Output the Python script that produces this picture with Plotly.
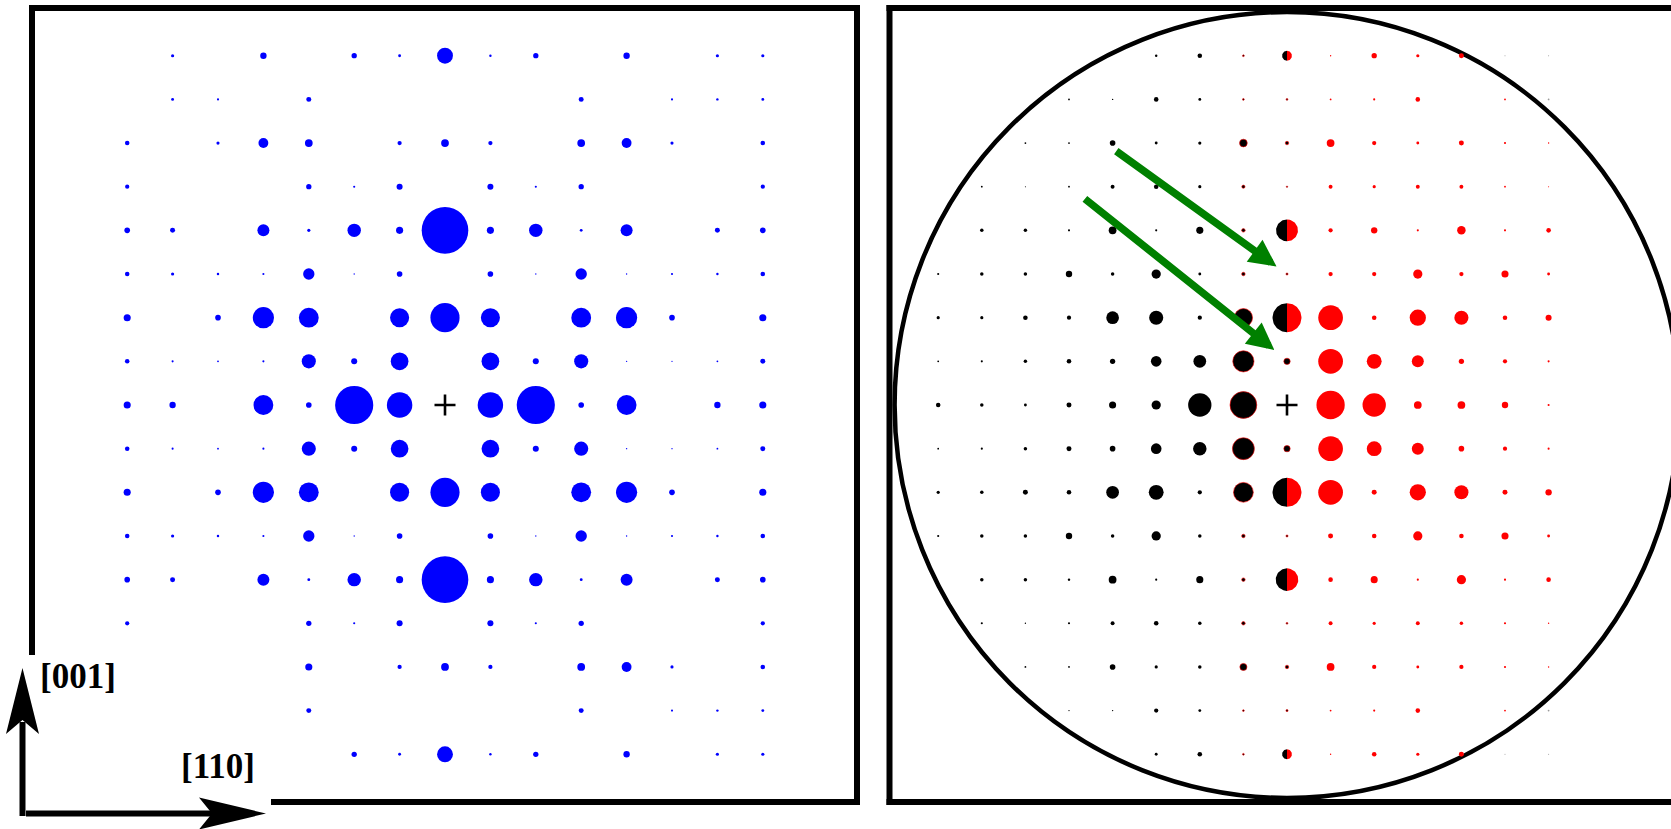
import numpy as np
import plotly.graph_objects as go

W, H = 1671, 829

# Reciprocal-lattice indices of the spots
ROWS = list(range(8, -9, -1))       # [001] index, top row first
COLS_LEFT = list(range(-7, 8))      # [110] index, left pattern
COLS_RIGHT = list(range(-8, 7))     # [110] index, right pattern

# Left pattern: spot intensity (drawn as spot diameter), columns -7 .. 7
left_p8 = [0, 3, 0, 6, 0, 5, 2.7, 15, 2.3, 5, 0, 6, 0, 3, 3]
left_p7 = [0, 2.7, 2, 0, 4.7, 0, 0, 0, 0, 0, 4.7, 0, 2, 2.3, 2.7]
left_p6 = [4.3, 0, 3, 9.3, 7.3, 0, 4, 7.3, 4, 0, 7.3, 9.3, 3, 0, 4.3]
left_p5 = [4, 0, 0, 0, 5, 2, 5.7, 0, 5.7, 2, 5, 0, 0, 0, 4]
left_p4 = [5.3, 4.7, 0, 11.3, 3, 12.7, 6.7, 44, 6.7, 12.7, 2.7, 11.3, 0, 4.7, 5.3]
left_p3 = [4.3, 3, 2.3, 2, 10.7, 1.3, 5.3, 0, 5.3, 1.3, 10.7, 1.3, 2, 2.3, 4.3]
left_p2 = [6.7, 0, 5.3, 20, 18.7, 0, 18, 27.5, 18, 0, 18.7, 20, 5.3, 0, 6.7]
left_p1 = [4.3, 2, 1.7, 2, 13.3, 5.7, 16.7, 0, 16.7, 5.7, 13.3, 1.3, 1.3, 1.7, 4.7]
left_z0 = [6.7, 6, 0, 18.7, 5.3, 36, 24, 0, 24, 36, 5.3, 18.7, 0, 6, 6.7]
left_m1 = [4.3, 2, 1.7, 2, 13.3, 5.7, 16.7, 0, 16.7, 5.7, 13.3, 1.3, 1.3, 1.7, 4.7]
left_m2 = [6.7, 0, 5.3, 20, 18.7, 0, 18, 27.5, 18, 0, 18.7, 20, 5.3, 0, 6.7]
left_m3 = [4.3, 3, 2.3, 2, 10.7, 1.3, 5.3, 0, 5.3, 1.3, 10.7, 1.3, 2, 2.3, 4.3]
left_m4 = [5.3, 4.7, 0, 11.3, 2.7, 12.7, 6.7, 44, 6.7, 12.7, 2.7, 11.3, 0, 4.7, 5.3]
left_m5 = [4, 0, 0, 0, 5, 2, 5.7, 0, 5.7, 2, 5, 0, 0, 0, 4]
left_m6 = [0, 0, 0, 0, 6.7, 0, 4, 7.3, 4, 0, 7.3, 9.3, 3, 0, 4.3]
left_m7 = [0, 0, 0, 0, 4.7, 0, 0, 0, 0, 0, 4.7, 0, 2, 2.3, 2.7]
left_m8 = [0, 0, 0, 0, 0, 5, 2.7, 15, 2.3, 5, 0, 6, 0, 3, 3]

# Right pattern: spot intensity, columns -8 .. 6
right_p8 = [0, 0, 0, 0, 0, 2.3, 4.3, 1.7, 9.3, 1.3, 5, 3, 4.7, 1, 1]
right_p7 = [0, 0, 0, 1.7, 1.3, 4.3, 2.7, 1.7, 1.7, 1.7, 2, 4.3, 0, 1.7, 1.7]
right_p6 = [0, 0, 1.7, 1.7, 5.3, 2.7, 3, 7.3, 3.3, 7.3, 4, 2.7, 4.7, 2, 1.3]
right_p5 = [0, 1.7, 1, 1.7, 3.7, 4.3, 3, 3, 1.3, 3.7, 3, 3.7, 3.7, 1.7, 1]
right_p4 = [0, 3.3, 3.3, 2, 7.3, 2, 6.7, 3.3, 20.7, 4, 6, 2, 8, 2, 4.3]
right_p3 = [2, 3.3, 3.3, 6, 3.3, 8.7, 2.7, 3.3, 2, 4, 4, 8.7, 4, 6.7, 2.7]
right_p2 = [3, 3, 4.3, 4, 12, 13.3, 4, 17.3, 27.3, 23.3, 4.3, 15.3, 13.3, 4.3, 5.7]
right_p1 = [1.7, 2, 3.3, 4.3, 5, 10, 12, 20, 6, 23.3, 14, 11.3, 5, 4, 2]
right_z0 = [4.3, 3.3, 2.7, 4.7, 6.7, 8.7, 22, 25.3, 0, 26.7, 22, 7.3, 7.3, 6, 2]
right_m1 = [1.7, 2, 3.3, 4.7, 5.3, 10, 12.7, 20.7, 6, 23.3, 14, 11.3, 5.3, 4, 2]
right_m2 = [3, 3.3, 4.7, 4.3, 12, 14, 4, 18.7, 27.3, 23.3, 4.7, 15.3, 13.3, 4.7, 6]
right_m3 = [2, 3.3, 3.3, 6, 3.3, 8.7, 3.3, 3.3, 2, 4.7, 4.3, 8.7, 4.3, 6.7, 2.7]
right_m4 = [0, 3.3, 3.3, 2.3, 7.3, 2, 6.7, 3.3, 21.3, 4.3, 6.7, 2, 8.7, 2, 4.3]
right_m5 = [0, 2, 1.3, 2, 3.7, 4.3, 3.3, 3.3, 1.7, 3.7, 3, 3.7, 3.3, 2, 1.3]
right_m6 = [0, 0, 1.7, 1.7, 5.3, 3, 3.3, 6.7, 3.3, 7.3, 4, 2.7, 4, 2, 1.3]
right_m7 = [0, 0, 0, 1.3, 1.3, 4, 2.7, 1.7, 2, 1.7, 2, 4.3, 0, 1.7, 1.7]
right_m8 = [0, 0, 0, 0, 0, 2.7, 4.3, 1.7, 9.3, 1.3, 4.3, 3, 4.7, 1, 1]

# Rows on the [001] line where both domains contribute (split spots)
SPLIT_ROWS = [8, 4, 2, -2, -4, -8]
APERTURE_RADIUS = 9       # objective aperture, lattice units
AXIS_LABELS = ["[001]", "[110]"]

LEFT_ROWS = [left_p8, left_p7, left_p6, left_p5, left_p4, left_p3, left_p2, left_p1, left_z0,
             left_m1, left_m2, left_m3, left_m4, left_m5, left_m6, left_m7, left_m8]
RIGHT_ROWS = [right_p8, right_p7, right_p6, right_p5, right_p4, right_p3, right_p2, right_p1, right_z0,
              right_m1, right_m2, right_m3, right_m4, right_m5, right_m6, right_m7, right_m8]

# ---- geometry of the two panels (pixels) ----
SPOT_PX = 1.06                     # diameter in px per intensity unit
Y_PX = (8, 802)                    # frame top / bottom
CY = 405                           # row 0
STEP_Y = 43.66
LEFT_X_PX, LEFT_CX, LEFT_STEP_X = (32, 857), 445, 45.4
RIGHT_X_PX, RIGHT_CX, RIGHT_STEP_X = (889.5, 1671), 1287, 43.6


def xaxis_cfg(xpx, cx, step):
    return dict(domain=[xpx[0] / W, xpx[1] / W],
                range=[(xpx[0] - cx) / step, (xpx[1] - cx) / step],
                visible=False, fixedrange=True)


y_cfg = dict(domain=[1 - Y_PX[1] / H, 1 - Y_PX[0] / H],
             range=[(CY - Y_PX[1]) / STEP_Y, (CY - Y_PX[0]) / STEP_Y],
             visible=False, fixedrange=True)

fig = go.Figure()

# ---- left pattern (blue spots) ----
lx, ly, ls = [], [], []
for r, vals in zip(ROWS, LEFT_ROWS):
    for c, v in zip(COLS_LEFT, vals):
        if v > 0:
            lx.append(c); ly.append(r); ls.append(v * SPOT_PX)
fig.add_trace(go.Scatter(x=lx, y=ly, mode="markers", xaxis="x", yaxis="y",
                         marker=dict(size=ls, color="#0000ff", opacity=1, line=dict(width=0)),
                         hoverinfo="skip", showlegend=False))

# ---- right pattern: two domains (black / red) ----
blk = dict(x=[], y=[], s=[], lc=[], lw=[])
red = dict(x=[], y=[], s=[])
gry = dict(x=[], y=[], s=[])
split = []
for r, vals in zip(ROWS, RIGHT_ROWS):
    for c, v in zip(COLS_RIGHT, vals):
        if v <= 0:
            continue
        if c == 0 and r in SPLIT_ROWS:
            split.append((r, v))
        elif c <= 0:
            blk["x"].append(c); blk["y"].append(r); blk["s"].append(v * SPOT_PX)
            rim = c >= -1
            blk["lc"].append("#ff0000" if rim else "#000000")
            blk["lw"].append(0.6 if rim else 0)
        elif c * c + r * r > APERTURE_RADIUS ** 2:
            gry["x"].append(c); gry["y"].append(r); gry["s"].append(v * SPOT_PX)
        else:
            red["x"].append(c); red["y"].append(r); red["s"].append(v * SPOT_PX)

fig.add_trace(go.Scatter(x=gry["x"], y=gry["y"], mode="markers", xaxis="x2", yaxis="y2",
                         marker=dict(size=gry["s"], color="#9a9a9a", opacity=1, line=dict(width=0)),
                         hoverinfo="skip", showlegend=False))
fig.add_trace(go.Scatter(x=red["x"], y=red["y"], mode="markers", xaxis="x2", yaxis="y2",
                         marker=dict(size=red["s"], color="#ff0000", opacity=1, line=dict(width=0)),
                         hoverinfo="skip", showlegend=False))
fig.add_trace(go.Scatter(x=blk["x"], y=blk["y"], mode="markers", xaxis="x2", yaxis="y2",
                         marker=dict(size=blk["s"], color="#000000", opacity=1,
                                     line=dict(width=blk["lw"], color=blk["lc"])),
                         hoverinfo="skip", showlegend=False))

# split spots: left half black, right half red
ppu_x = RIGHT_STEP_X
ppu_y = STEP_Y
for side, color in (("left", "#000000"), ("right", "#ff0000")):
    px_, py_ = [], []
    t = np.linspace(np.pi / 2, 3 * np.pi / 2, 40) if side == "left" else np.linspace(-np.pi / 2, np.pi / 2, 40)
    for r, v in split:
        rx = v * SPOT_PX / 2 / ppu_x
        ry = v * SPOT_PX / 2 / ppu_y
        px_ += list(rx * np.cos(t)) + [None]
        py_ += list(r + ry * np.sin(t)) + [None]
    fig.add_trace(go.Scatter(x=px_, y=py_, mode="lines", fill="toself", fillcolor=color,
                             line=dict(width=0, color=color), xaxis="x2", yaxis="y2",
                             hoverinfo="skip", showlegend=False))

# transmitted-beam position
for xa, ya in (("x", "y"), ("x2", "y2")):
    fig.add_trace(go.Scatter(x=[0], y=[0], mode="markers", xaxis=xa, yaxis=ya,
                             marker=dict(symbol="cross-thin", size=15, opacity=1,
                                         line=dict(width=2.6, color="#000000")),
                             hoverinfo="skip", showlegend=False))


def P(x, y):
    return x / W, 1 - y / H


shapes = []


def seg(x0, y0, x1, y1, w=6):
    a, b = P(x0, y0)
    c, d = P(x1, y1)
    shapes.append(dict(type="line", xref="paper", yref="paper", x0=a, y0=b, x1=c, y1=d,
                       line=dict(color="#000000", width=w), layer="above"))


def poly(pts):
    path = "M " + " L ".join(f"{P(x, y)[0]:.5f},{P(x, y)[1]:.5f}" for x, y in pts) + " Z"
    shapes.append(dict(type="path", xref="paper", yref="paper", path=path,
                       fillcolor="#000000", line=dict(width=0), layer="above"))


# left frame (open at the lower-left corner)
seg(29, 8, 860, 8)
seg(857, 5, 857, 805)
seg(271, 802, 860, 802)
seg(32, 5, 32, 655)
# right frame
seg(886.5, 8, 1671, 8)
seg(889.5, 5, 889.5, 805)
seg(886.5, 802, 1671, 802)

# orientation arrows
seg(22.5, 722, 22.5, 816)
seg(26, 813.5, 214, 813.5)
poly([(22.5, 668), (39, 734), (22.5, 720), (6, 734)])
poly([(266, 813.5), (199, 797.5), (212, 813.5), (199, 829.5)])

# objective aperture
shapes.append(dict(type="circle", xref="x2", yref="y2",
                   x0=-APERTURE_RADIUS, x1=APERTURE_RADIUS,
                   y0=-APERTURE_RADIUS, y1=APERTURE_RADIUS,
                   line=dict(color="#000000", width=4.5), layer="below"))

annotations = []
for txt, (x, y) in zip(AXIS_LABELS, [(78, 676), (217.5, 766)]):
    ax_, ay_ = P(x, y)
    annotations.append(dict(text=f"<b>{txt}</b>", x=ax_, y=ay_, xref="paper", yref="paper",
                            xanchor="center", yanchor="middle", showarrow=False,
                            font=dict(family="Liberation Serif", size=35, color="#000000")))

# arrows pointing at the kinematically forbidden (0, 3) and (0, 1) positions
for (tx, ty), (sx, sy) in [((-0.24, 3.17), (-3.95, 5.84)), ((-0.29, 1.26), (-4.67, 4.75))]:
    annotations.append(dict(x=tx, y=ty, ax=sx, ay=sy, xref="x2", yref="y2", axref="x2", ayref="y2",
                            text="", showarrow=True, arrowhead=2, arrowsize=0.72, arrowwidth=7.5,
                            arrowcolor="#008000", standoff=0, startstandoff=0))

fig.update_layout(
    width=W, height=H, autosize=False,
    margin=dict(l=0, r=0, t=0, b=0),
    paper_bgcolor="#ffffff", plot_bgcolor="rgba(0,0,0,0)",
    xaxis=xaxis_cfg(LEFT_X_PX, LEFT_CX, LEFT_STEP_X),
    yaxis=dict(y_cfg, anchor="x"),
    xaxis2=dict(xaxis_cfg(RIGHT_X_PX, RIGHT_CX, RIGHT_STEP_X), anchor="y2"),
    yaxis2=dict(y_cfg, anchor="x2"),
    shapes=shapes, annotations=annotations,
    showlegend=False,
)

fig.write_html("out.html", config={"displayModeBar": False})
